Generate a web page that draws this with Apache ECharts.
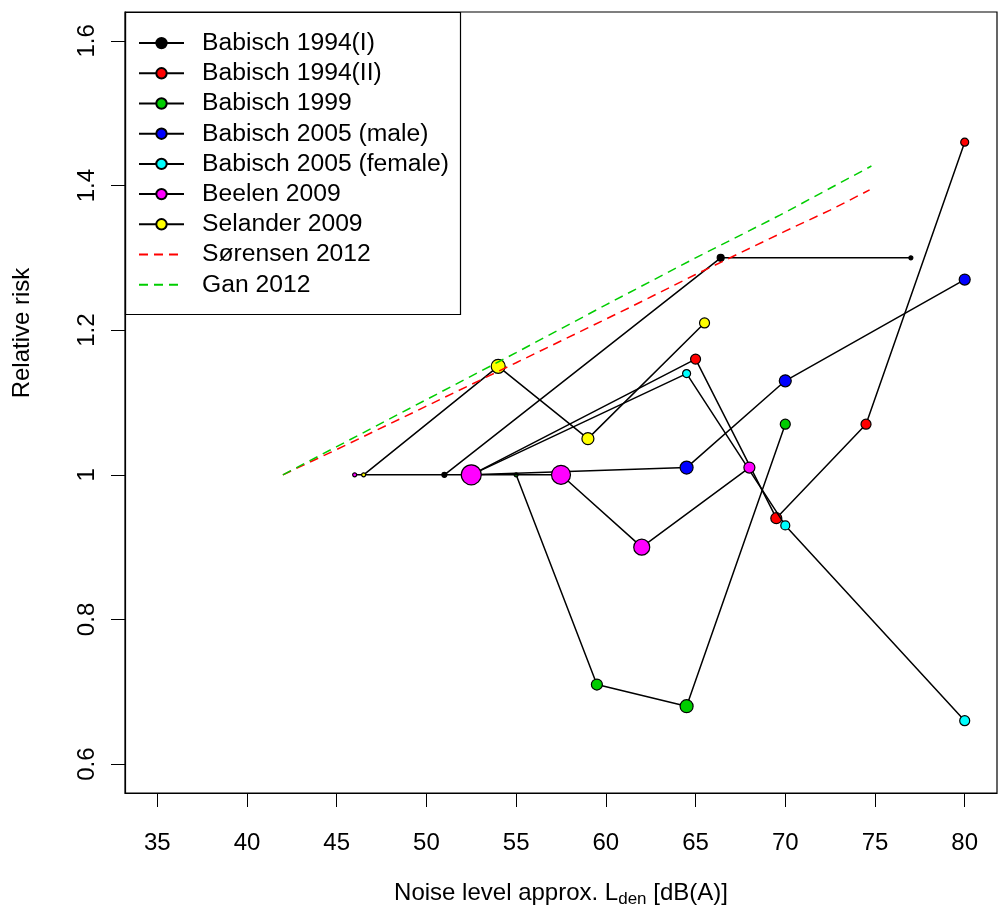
<!DOCTYPE html>
<html>
<head>
<meta charset="utf-8">
<script src="https://cdn.jsdelivr.net/npm/echarts@6/dist/echarts.min.js"></script>
<style>html,body{margin:0;padding:0;background:#fff}#c{width:999px;height:912px}</style>
</head>
<body>
<div id="c"></div>
<script>
// ---- data ----
const seriesNames = ['Babisch 1994(I)', 'Babisch 1994(II)', 'Babisch 1999', 'Babisch 2005 (male)', 'Babisch 2005 (female)', 'Beelen 2009', 'Selander 2009', 'Sørensen 2012', 'Gan 2012'];
const babisch1994I_x = [51.0, 66.4, 77.0];
const babisch1994I_y = [1.0, 1.30, 1.30];
const babisch1994I_w = [5, 7, 4];
const babisch1994II_x = [52.5, 65.0, 69.5, 74.5, 80.0];
const babisch1994II_y = [1.0, 1.16, 0.94, 1.07, 1.46];
const babisch1994II_w = [10, 10, 11, 10, 8];
const babisch1999_x = [55.0, 59.5, 64.5, 70.0];
const babisch1999_y = [1.0, 0.71, 0.68, 1.07];
const babisch1999_w = [4, 11, 13, 10];
const babisch2005m_x = [52.5, 64.5, 70.0, 80.0];
const babisch2005m_y = [1.0, 1.01, 1.13, 1.27];
const babisch2005m_w = [12, 13, 12, 11];
const babisch2005f_x = [52.5, 64.5, 70.0, 80.0];
const babisch2005f_y = [1.0, 1.14, 0.93, 0.66];
const babisch2005f_w = [8, 8, 9, 10];
const beelen2009_x = [46.0, 52.5, 57.5, 62.0, 68.0];
const beelen2009_y = [1.0, 1.0, 1.0, 0.90, 1.01];
const beelen2009_w = [4, 20, 19, 16, 11];
const selander2009_x = [46.5, 54.0, 59.0, 65.5];
const selander2009_y = [1.0, 1.15, 1.05, 1.21];
const selander2009_w = [4, 14, 12, 10];
const sorensen2012_x = [42, 45, 50, 55, 61.3, 65, 70, 72.5, 74.7];
const sorensen2012_y = [1.0, 1.035, 1.095, 1.155, 1.231, 1.277, 1.337, 1.366, 1.394];
const gan2012_x = [42, 45, 50, 55, 60, 65, 69.7, 73.0, 74.8];
const gan2012_y = [1.0, 1.039, 1.104, 1.169, 1.235, 1.300, 1.359, 1.403, 1.427];
const xTicks = [35, 40, 45, 50, 55, 60, 65, 70, 75, 80];
const yTicks = [0.6, 0.8, 1.0, 1.2, 1.4, 1.6];
const yTickLabels = ['0.6', '0.8', '1', '1.2', '1.4', '1.6'];

// ---- build ----
const FONT = '"Liberation Sans", Arial, sans-serif';
const pointSets = [
  [babisch1994I_x, babisch1994I_y, babisch1994I_w, '#000000'],
  [babisch1994II_x, babisch1994II_y, babisch1994II_w, '#FF0000'],
  [babisch1999_x, babisch1999_y, babisch1999_w, '#00CD00'],
  [babisch2005m_x, babisch2005m_y, babisch2005m_w, '#0000FF'],
  [babisch2005f_x, babisch2005f_y, babisch2005f_w, '#00FFFF'],
  [beelen2009_x, beelen2009_y, beelen2009_w, '#FF00FF'],
  [selander2009_x, selander2009_y, selander2009_w, '#FFFF00']
];
const series = pointSets.map((s, i) => ({
  name: seriesNames[i],
  type: 'line',
  z: 2 + i,
  data: s[0].map((x, k) => ({ value: [x, s[1][k]], symbolSize: s[2][k] })),
  symbol: 'circle',
  showAllSymbol: true,
  lineStyle: { color: '#000', width: 1.5 },
  itemStyle: { color: s[3], borderColor: '#000', borderWidth: 1.2 },
  emphasis: { disabled: true },
  animation: false
}));
const dashSets = [[sorensen2012_x, sorensen2012_y, '#FF0000'], [gan2012_x, gan2012_y, '#00CD00']];
dashSets.forEach((s, i) => {
  series.push({
    name: seriesNames[7 + i],
    type: 'line',
    z: 20 + i,
    data: s[0].map((x, k) => [x, s[1][k]]),
    symbol: 'none',
    lineStyle: { color: s[2], width: 1.5, type: [9, 6] },
    itemStyle: { color: s[2] },
    emphasis: { disabled: true },
    animation: false
  });
});

const legendData = seriesNames.map((n, i) => i < 7 ? { name: n } :
  { name: n, itemStyle: { color: 'transparent', borderColor: 'transparent', borderWidth: 0, opacity: 0 } });

const chart = echarts.init(document.getElementById('c'), null, { renderer: 'canvas' });
chart.setOption({
  animation: false,
  backgroundColor: '#fff',
  grid: { left: 125, right: 2, top: 12, bottom: 119, show: true, borderColor: '#000', borderWidth: 1.2, backgroundColor: 'transparent' },
  xAxis: {
    type: 'value', min: 33.2, max: 81.8,
    splitLine: { show: false },
    axisLine: { show: true, onZero: false, lineStyle: { color: '#000', width: 1.2 } },
    axisTick: { show: true, length: 14, customValues: xTicks, lineStyle: { color: '#000', width: 1 } },
    axisLabel: { customValues: xTicks, color: '#000', fontSize: 24, fontFamily: FONT, margin: 38 }
  },
  yAxis: {
    type: 'value', min: 0.56, max: 1.64,
    splitLine: { show: false },
    axisLine: { show: true, onZero: false, lineStyle: { color: '#000', width: 1.2 } },
    axisTick: { show: true, length: 14, customValues: yTicks, lineStyle: { color: '#000', width: 1 } },
    axisLabel: { customValues: yTicks, rotate: 90, color: '#000', fontSize: 24, fontFamily: FONT, margin: 26,
      formatter: v => { const i = yTicks.findIndex(t => Math.abs(t - v) < 1e-6); return i >= 0 ? yTickLabels[i] : ''; } }
  },
  legend: {
    data: legendData,
    left: 133, top: 23, orient: 'vertical',
    itemWidth: 45, itemHeight: 13, itemGap: 0,
    textStyle: { color: '#000', fontSize: 24.7, fontFamily: FONT, lineHeight: 30.2, padding: [0, 0, 0, 13] },
    selectedMode: false
  },
  graphic: [
    { type: 'rect', shape: { x: 125.5, y: 12.5, width: 335, height: 302 }, style: { fill: 'none', stroke: '#000', lineWidth: 1.2 }, z: 1 },
    { type: 'text', x: 561, y: 893, style: { text: '{a|Noise level approx. L}{s|den}{a| [dB(A)]}', align: 'center', verticalAlign: 'middle',
      rich: { a: { fontSize: 24, fontFamily: FONT, fill: '#000' }, s: { fontSize: 17, fontFamily: FONT, fill: '#000', padding: [12, 0, 0, 0] } } } },
    { type: 'text', x: 22, y: 333, rotation: Math.PI / 2, style: { text: 'Relative risk', align: 'center', verticalAlign: 'middle', fontSize: 24, fontFamily: FONT, fill: '#000' } }
  ],
  series: series
});
</script>
</body>
</html>
